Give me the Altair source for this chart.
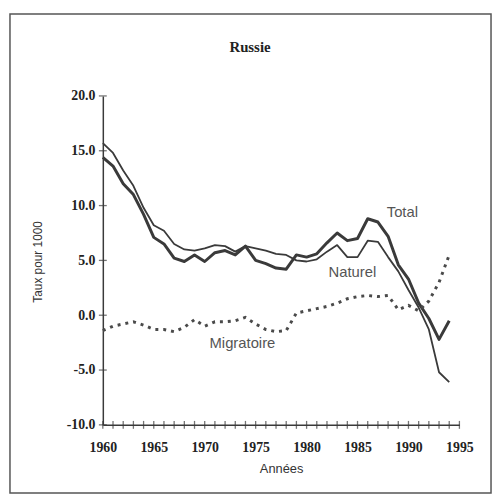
import altair as alt
import pandas as pd

years = list(range(1960, 1995))
total = [14.4, 13.6, 12.0, 11.0, 9.2, 7.1, 6.5, 5.2, 4.9, 5.5, 4.9, 5.7, 5.9, 5.5, 6.3,
         5.0, 4.7, 4.3, 4.2, 5.5, 5.3, 5.6, 6.6, 7.5, 6.8, 7.0, 8.8, 8.5, 7.2, 4.6,
         3.3, 1.1, -0.3, -2.2, -0.5]
naturel = [15.7, 14.8, 13.2, 11.8, 9.8, 8.2, 7.7, 6.5, 6.0, 5.9, 6.1, 6.4, 6.3, 5.8, 6.3,
           6.1, 5.9, 5.6, 5.5, 5.0, 4.9, 5.1, 5.8, 6.4, 5.3, 5.3, 6.8, 6.7, 5.3, 4.0,
           2.3, 0.7, -1.3, -5.2, -6.1]
migratoire = [-1.4, -1.0, -0.8, -0.6, -0.9, -1.3, -1.3, -1.5, -1.1, -0.4, -1.0, -0.6, -0.6,
              -0.5, -0.2, -0.8, -1.3, -1.5, -1.4, 0.2, 0.4, 0.6, 0.8, 1.1, 1.5, 1.7, 1.8,
              1.7, 1.8, 0.5, 0.9, 0.4, 1.3, 3.0, 5.5]

label_text = ["Total", "Naturel", "Migratoire"]
label_year = [1989.4, 1984.5, 1973.7]
label_value = [9.4, 3.9, -2.5]

tick_years = list(range(1960, 1996))
y_ticks = [-10, -5, 0, 5, 10, 15, 20]

df = pd.DataFrame({
    "year": years * 3,
    "value": total + naturel + migratoire,
    "series": ["Total"] * len(years) + ["Naturel"] * len(years) + ["Migratoire"] * len(years),
})
labels = pd.DataFrame({"year": label_year, "value": label_value, "text": label_text})
xt = pd.DataFrame({"year": tick_years, "value": [-10] * len(tick_years)})
yt = pd.DataFrame({"year": [1960] * len(y_ticks), "value": y_ticks})

INK = "#3a3a3a"
xscale = alt.Scale(domain=[1960, 1995], nice=False, zero=False)
yscale = alt.Scale(domain=[-10, 20], nice=False)

xenc = alt.X("year:Q", scale=xscale, axis=alt.Axis(
    values=[1960, 1965, 1970, 1975, 1980, 1985, 1990, 1995], format="d", ticks=False,
    labelPadding=16, labelFont="Liberation Serif", labelFontWeight="bold", labelFontSize=14,
    labelColor="#222", domainColor=INK, domainWidth=1.5, grid=False, title=None,
    labelFlush=False))
yenc = alt.Y("value:Q", scale=yscale, axis=alt.Axis(
    values=y_ticks, labelExpr="replace(format(datum.value, '.1f'), '\u2212', '-')",
    ticks=False, labelPadding=8,
    labelFont="Liberation Serif", labelFontWeight="bold", labelFontSize=14,
    labelColor="#222", domainColor=INK, domainWidth=1.5, grid=False, title=None))

base = alt.Chart(df)
l_total = base.transform_filter(alt.datum.series == "Total").mark_line(
    color=INK, strokeWidth=3, strokeJoin="round").encode(x=xenc, y=yenc)
l_nat = base.transform_filter(alt.datum.series == "Naturel").mark_line(
    color=INK, strokeWidth=1.8, strokeJoin="round").encode(x="year:Q", y="value:Q")
l_mig = base.transform_filter(alt.datum.series == "Migratoire").mark_line(
    color="#4a4a4a", strokeWidth=3, strokeDash=[3, 5]).encode(x="year:Q", y="value:Q")

xticks = alt.Chart(xt).mark_tick(orient="vertical", size=8, thickness=1.3, color=INK).encode(
    x="year:Q", y="value:Q")
yticks = alt.Chart(yt).mark_tick(orient="horizontal", size=8, thickness=1.3, color=INK).encode(
    x="year:Q", y="value:Q")

ltext = alt.Chart(labels).mark_text(font="Liberation Sans", fontSize=15, color="#555",
                                    align="center", baseline="middle").encode(
    x="year:Q", y="value:Q", text="text:N")

one = pd.DataFrame({"a": [0]})
title = alt.Chart(one).mark_text(text="Russie", font="Liberation Serif", fontWeight="bold",
                                 fontSize=15, color="#222", align="center", baseline="middle").encode(
    x=alt.value(149), y=alt.value(-49))
ytitle = alt.Chart(one).mark_text(text="Taux pour 1000", font="Liberation Sans", fontSize=12,
                                  color="#333", angle=270, align="center", baseline="middle").encode(
    x=alt.value(-66), y=alt.value(168))
xtitle = alt.Chart(one).mark_text(text="Années", font="Liberation Sans", fontSize=13,
                                  color="#333", align="center", baseline="middle").encode(
    x=alt.value(181), y=alt.value(378))
frame = alt.Chart(one).mark_rect(fill=None, stroke="#555", strokeWidth=1.5).encode(
    x=alt.value(-94), x2=alt.value(393), y=alt.value(-83), y2=alt.value(402))

chart = alt.layer(frame, l_nat, l_total, l_mig, xticks, yticks, ltext, title, ytitle, xtitle).properties(
    width=361, height=333,
    background="white",
    autosize=alt.AutoSizeParams(type="none"),
    padding={"left": 96, "top": 86, "right": 34, "bottom": 70},
).configure_view(stroke="transparent", strokeWidth=0)

chart.save("out.html", embed_options={"renderer": "svg", "actions": False})
